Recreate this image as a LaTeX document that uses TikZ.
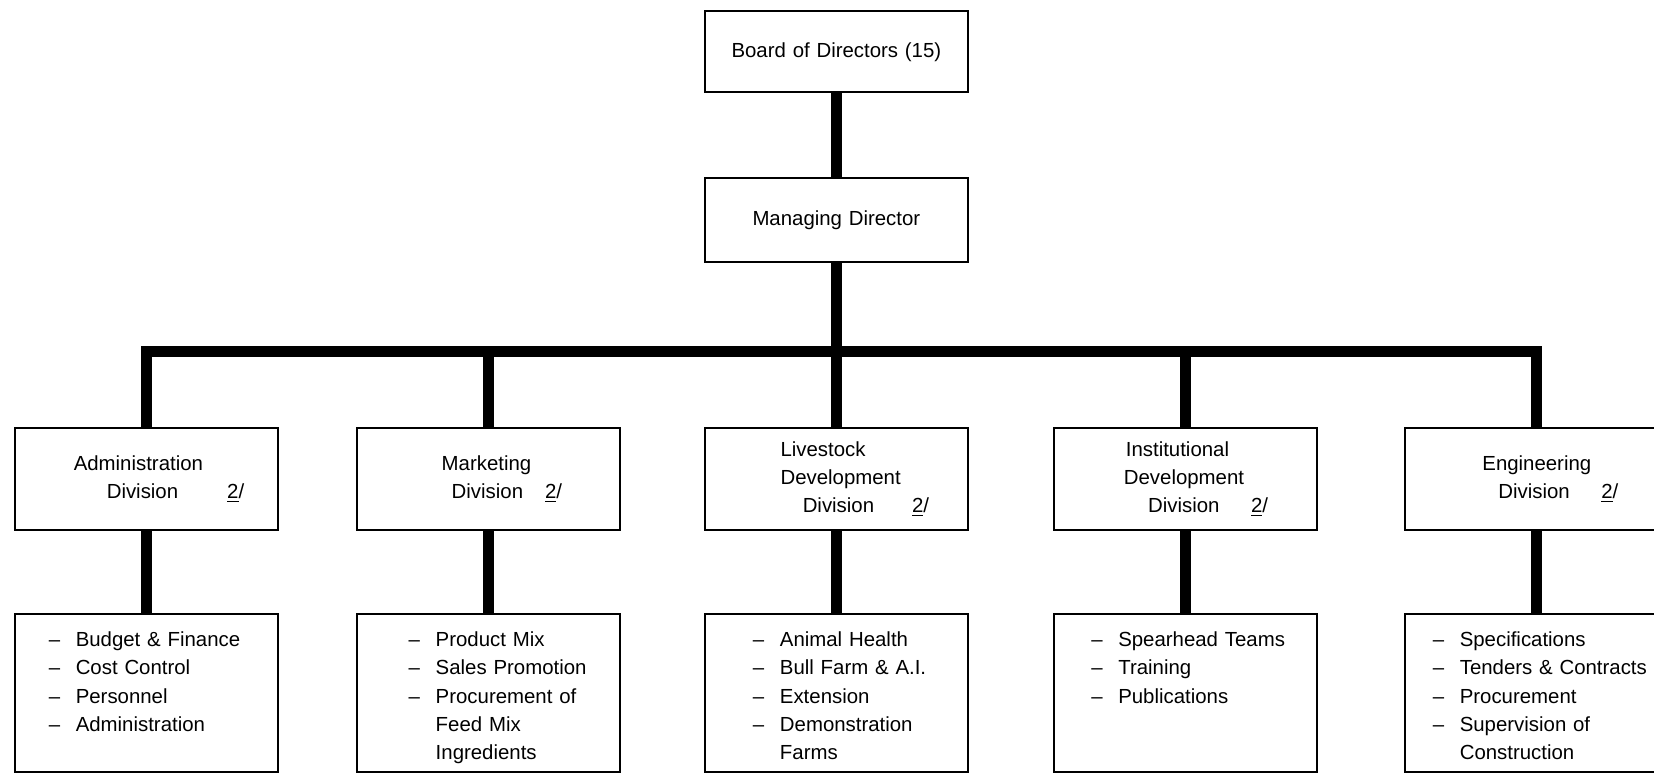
\documentclass[tikz,border=0pt]{standalone}
\usepackage{fontspec}
\setmainfont{Liberation Sans}
\newcommand{\orgfont}{\fontsize{10.2}{14.2}\selectfont}
\newcommand{\task}{\makebox[13.5pt][l]{--}}
\tikzset{%
  unit/.style={draw, line width=1.1pt, text width=4.62cm, inner xsep=0pt, align=left, font=\orgfont},
  topbox/.style={unit, align=center},
  divbox/.style={unit, minimum height=1.79cm},
  dutybox/.style={unit, anchor=north, inner ysep=8.5pt, text height=7.5pt, text depth=54.5pt,
                  execute at begin node={\leftskip=#1}},
  trunk/.style={line width=5.5pt},
}

\begin{document}
\begin{tikzpicture}
    \useasboundingbox (0,0) rectangle (29.07,13.57);
    \clip (0,0) rectangle (29.07,13.57);

    %top of the chart
    \node[topbox, minimum height=1.42cm] (bd) at (14.70,12.66) {Board of Directors (15)};
    \node[topbox, minimum height=1.48cm] (md) at (14.70,9.70) {Managing Director};
    \coordinate (rail) at (14.70,7.40);

    %divisions
    \node[divbox] (adm) at (2.57,5.15) {\hspace*{29.5pt}Administration\\
        \hspace*{46pt}Division\hspace{24.5pt}\underline{2}/};
    \node[divbox] (mkt) at (8.58,5.15) {\hspace*{42.5pt}Marketing\\
        \hspace*{47.5pt}Division\hspace{11pt}\underline{2}/};
    \node[divbox] (liv) at (14.70,5.15) {\hspace*{37.8pt}Livestock\\
        \hspace*{37.8pt}Development\\
        \hspace*{48.9pt}Division\hspace{19pt}\underline{2}/};
    \node[divbox] (inst) at (20.84,5.15) {\hspace*{35.8pt}Institutional\\
        \hspace*{34.8pt}Development\\
        \hspace*{46.9pt}Division\hspace{15.8pt}\underline{2}/};
    \node[divbox] (eng) at (27.00,5.15) {\hspace*{38.8pt}Engineering\\
        \hspace*{46.8pt}Division\hspace{15.8pt}\underline{2}/};

    %duties of each division
    \node[dutybox=17pt] (admD) at (2.57,2.794) {\task Budget \& Finance\\\task Cost Control\\
        \task Personnel\\\task Administration};
    \node[dutybox=26pt] (mktD) at (8.58,2.794) {\task Product Mix\\\task Sales Promotion\\
        \task Procurement of\\\hspace*{13.5pt}Feed Mix\\\hspace*{13.5pt}Ingredients};
    \node[dutybox=24pt] (livD) at (14.70,2.794) {\task Animal Health\\\task Bull Farm \& A.I.\\
        \task Extension\\\task Demonstration\\\hspace*{13.5pt}Farms};
    \node[dutybox=18.5pt] (instD) at (20.84,2.794) {\task Spearhead Teams\\\task Training\\
        \task Publications};
    \node[dutybox=14pt] (engD) at (27.00,2.794) {\task Specifications\\\task Tenders \& Contracts\\
        \task Procurement\\\task Supervision of\\\hspace*{13.5pt}Construction};

    %connecting lines
    \draw[trunk] (bd) -- (md);
    \draw[trunk] (md) -- (liv);
    \draw[trunk] (adm.north) |- (rail) -| (eng.north);
    \draw[trunk] (mkt.north) -- (mkt.north |- rail);
    \draw[trunk] (inst.north) -- (inst.north |- rail);

    \draw[trunk] (adm) -- (admD);
    \draw[trunk] (mkt) -- (mktD);
    \draw[trunk] (liv) -- (livD);
    \draw[trunk] (inst) -- (instD);
    \draw[trunk] (eng) -- (engD);
\end{tikzpicture}
\end{document}
